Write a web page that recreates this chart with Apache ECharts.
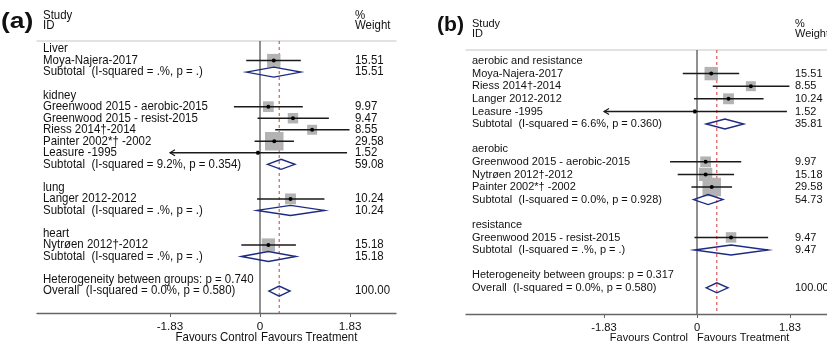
<!DOCTYPE html>
<html><head><meta charset="utf-8">
<script src="https://cdn.jsdelivr.net/npm/echarts@6/dist/echarts.min.js"></script>
<style>html,body{margin:0;padding:0;background:#fff}#c{width:827px;height:347px}</style>
</head><body><div id="c"></div>
<script>
// ---------- data ----------
const tickValues = [-1.83, 0, 1.83];
const clipLimit = 1.83;

// Panel (a): by organ
const aRows = [
  "Liver", "Moya-Najera-2017", "Subtotal  (I-squared = .%, p = .)", "",
  "kidney", "Greenwood 2015 - aerobic-2015", "Greenwood 2015 - resist-2015", "Riess 2014\u2020-2014",
  "Painter 2002*\u2020 -2002", "Leasure -1995", "Subtotal  (I-squared = 9.2%, p = 0.354)", "",
  "lung", "Langer 2012-2012", "Subtotal  (I-squared = .%, p = .)", "",
  "heart", "Nytr\u00f8en 2012\u2020-2012", "Subtotal  (I-squared = .%, p = .)", "",
  "Heterogeneity between groups: p = 0.740", "Overall  (I-squared = 0.0%, p = 0.580)"
];
const aEst = [null, 0.28, 0.28, null, null, 0.17, 0.67, 1.06, 0.29, -0.04, 0.43, null, null, 0.62, 0.62, null, null, 0.17, 0.17, null, null, 0.39];
const aLo  = [null, -0.28, -0.28, null, null, -0.53, -0.05, 0.31, -0.11, -1.95, 0.15, null, null, -0.06, -0.06, null, null, -0.38, -0.38, null, null, 0.18];
const aHi  = [null, 0.83, 0.83, null, null, 0.87, 1.40, 1.82, 0.69, 1.77, 0.71, null, null, 1.31, 1.31, null, null, 0.73, 0.73, null, null, 0.61];
const aWeight = ["", "15.51", "15.51", "", "", "9.97", "9.47", "8.55", "29.58", "1.52", "59.08", "", "", "10.24", "10.24", "", "", "15.18", "15.18", "", "", "100.00"];

// Panel (b): by exercise type
const bRows = [
  "aerobic and resistance", "Moya-Najera-2017", "Riess 2014\u2020-2014", "Langer 2012-2012", "Leasure -1995",
  "Subtotal  (I-squared = 6.6%, p = 0.360)", "",
  "aerobic", "Greenwood 2015 - aerobic-2015", "Nytr\u00f8en 2012\u2020-2012", "Painter 2002*\u2020 -2002",
  "Subtotal  (I-squared = 0.0%, p = 0.928)", "",
  "resistance", "Greenwood 2015 - resist-2015", "Subtotal  (I-squared = .%, p = .)", "",
  "Heterogeneity between groups: p = 0.317", "Overall  (I-squared = 0.0%, p = 0.580)"
];
const bEst = [null, 0.28, 1.06, 0.62, -0.04, 0.55, null, null, 0.17, 0.17, 0.29, 0.22, null, null, 0.67, 0.67, null, null, 0.39];
const bLo  = [null, -0.28, 0.31, -0.06, -1.95, 0.18, null, null, -0.53, -0.38, -0.11, -0.07, null, null, -0.05, -0.05, null, null, 0.18];
const bHi  = [null, 0.83, 1.82, 1.31, 1.77, 0.92, null, null, 0.87, 0.73, 0.69, 0.51, null, null, 1.40, 1.40, null, null, 0.61];
const bWeight = ["", "15.51", "8.55", "10.24", "1.52", "35.81", "", "", "9.97", "15.18", "29.58", "54.73", "", "", "9.47", "9.47", "", "", "100.00"];

// ---------- rendering ----------
const FAMILY = '"Liberation Sans", Arial, Helvetica, sans-serif';
const TXT = '#111';

const panels = [
  { tag: '(a)', rows: aRows, est: aEst, lo: aLo, hi: aHi, wt: aWeight, fontSize: 12.2, sx: 0.94, tagSize: 22, tagSx: 1.2,
    tagDx: -36, tagDy: -19, labelDx: 6, weightDx: 318, studyDy: -25, idDy: -15,
    favGapL: 3, favGapR: 1, favDy: 25, sqK: 3.4, zeroColor: '#222', zeroWidth: 1 },
  { tag: '(b)', rows: bRows, est: bEst, lo: bLo, hi: bHi, wt: bWeight, fontSize: 11.7, sx: 0.94, tagSize: 20, tagSx: 1.06,
    tagDx: -29, tagDy: -25, labelDx: 6, weightDx: 329, studyDy: -26, idDy: -16,
    favGapL: 9, favGapR: 0, favDy: 24, sqK: 3.4, zeroColor: '#555', zeroWidth: 1.3 }
];

function makeRender(P) {
  const font = P.fontSize + 'px ' + FAMILY;
  return function (params, api) {
    const i = api.value(1);
    const cs = params.coordSys;
    const y = api.coord([0, i])[1];
    const xAt = v => api.coord([v, i])[0];
    const kids = [];
    const txt = (s, x, yy, align, f, sx) => kids.push({
      type: 'text', x: x, y: yy, scaleX: sx || P.sx,
      style: { text: s, x: 0, y: 0, align: align || 'left', verticalAlign: 'middle', font: f || font, fill: TXT }
    });
    if (i === 0) {
      const x0 = xAt(0);
      kids.push({ type: 'line', shape: { x1: x0, y1: cs.y, x2: x0, y2: cs.y + cs.height }, style: { stroke: P.zeroColor, lineWidth: P.zeroWidth } });
      const xo = xAt(P.est[P.est.length - 1]);
      kids.push({ type: 'line', shape: { x1: xo, y1: cs.y, x2: xo, y2: cs.y + cs.height }, style: { stroke: '#d23a3a', lineWidth: 1, lineDash: [3, 3] } });
      txt('Study', cs.x + P.labelDx, cs.y + P.studyDy);
      txt('ID', cs.x + P.labelDx, cs.y + P.idDy);
      txt('%', cs.x + P.weightDx, cs.y + P.studyDy);
      txt('Weight', cs.x + P.weightDx, cs.y + P.idDy);
      txt(P.tag, cs.x + P.tagDx, cs.y + P.tagDy, 'left', 'bold ' + P.tagSize + 'px ' + FAMILY, P.tagSx);
      const fy = cs.y + cs.height + P.favDy;
      txt('Favours Control', x0 - P.favGapL, fy, 'right');
      txt('Favours Treatment', x0 + P.favGapR, fy, 'left');
    }
    txt(P.rows[i], cs.x + P.labelDx, y);
    if (P.wt[i]) txt(P.wt[i], cs.x + P.weightDx, y);
    const e = P.est[i];
    if (e !== null) {
      const lbl = P.rows[i];
      const isPooled = lbl.indexOf('Subtotal') === 0 || lbl.indexOf('Overall') === 0;
      const lo = Math.max(P.lo[i], -clipLimit), hi = Math.min(P.hi[i], clipLimit);
      const xl = xAt(lo), xh = xAt(hi), xe = xAt(e);
      if (isPooled) {
        kids.push({ type: 'polygon', shape: { points: [[xl, y], [xe, y - 5], [xh, y], [xe, y + 5]] },
          style: { fill: 'none', stroke: '#1b2a82', lineWidth: 1.4 } });
      } else {
        const s = P.sqK * Math.sqrt(parseFloat(P.wt[i]));
        kids.push({ type: 'rect', shape: { x: xe - s / 2, y: y - s / 2, width: s, height: s }, style: { fill: '#b3b3b3' } });
        kids.push({ type: 'line', shape: { x1: xl, y1: y, x2: xh, y2: y }, style: { stroke: '#1a1a1a', lineWidth: 1.5 } });
        if (P.lo[i] < -clipLimit) {
          kids.push({ type: 'polyline', shape: { points: [[xl + 5, y - 3], [xl, y], [xl + 5, y + 3]] }, style: { stroke: '#1a1a1a', lineWidth: 1.2, fill: 'none' } });
        }
        if (P.hi[i] > clipLimit) {
          kids.push({ type: 'polyline', shape: { points: [[xh - 5, y - 3], [xh, y], [xh - 5, y + 3]] }, style: { stroke: '#1a1a1a', lineWidth: 1.2, fill: 'none' } });
        }
        kids.push({ type: 'circle', shape: { cx: xe, cy: y, r: 2 }, style: { fill: '#000' } });
      }
    }
    return { type: 'group', children: kids };
  };
}

const grids = [
  { left: 37, top: 41, width: 359, height: 272, outerBoundsMode: 'none', containLabel: false },
  { left: 466, top: 50, width: 420, height: 264, outerBoundsMode: 'none', containLabel: false }
];
const xRanges = [[-4.534, 2.765], [-4.547, 3.72]];
const yRanges = [[-0.7, 22.9], [-0.873, 20.08]];

const xAxes = [], yAxes = [], series = [];
panels.forEach((P, g) => {
  xAxes.push({
    gridIndex: g, type: 'value', min: xRanges[g][0], max: xRanges[g][1], position: 'bottom',
    axisLine: { onZero: false, lineStyle: { color: '#666', width: 1.3 } },
    axisTick: { customValues: tickValues, length: 4, lineStyle: { color: '#666' } },
    axisLabel: { customValues: tickValues, color: TXT, fontSize: P.fontSize - 0.5, fontFamily: FAMILY, margin: 8,
      formatter: v => (v === 0 ? '0' : String(v)) },
    splitLine: { show: false }
  });
  xAxes.push({
    gridIndex: g, type: 'value', min: xRanges[g][0], max: xRanges[g][1], position: 'top',
    axisLine: { onZero: false, lineStyle: { color: '#d9d9d9', width: 1.5 } },
    axisTick: { show: false }, axisLabel: { show: false }, splitLine: { show: false }
  });
  yAxes.push({ gridIndex: g, type: 'value', inverse: true, min: yRanges[g][0], max: yRanges[g][1], show: false });
  series.push({
    type: 'custom', xAxisIndex: g * 2, yAxisIndex: g, clip: false, silent: true,
    renderItem: makeRender(P),
    data: P.rows.map((r, i) => [0, i]),
    encode: { x: 0, y: 1 }
  });
});

const chart = echarts.init(document.getElementById('c'), null, { renderer: 'canvas' });
chart.setOption({ animation: false, backgroundColor: '#fff', grid: grids, xAxis: xAxes, yAxis: yAxes, series: series });
</script></body></html>
